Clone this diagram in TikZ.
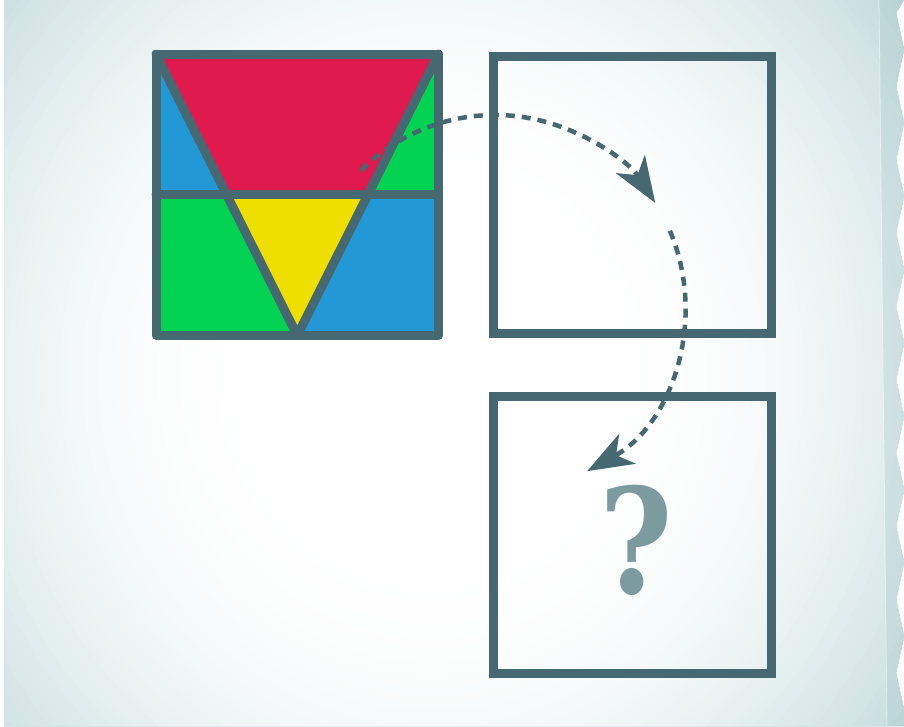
\documentclass[tikz,border=0pt]{standalone}
\usepackage{xcolor}
\usepackage{fontspec}
\usepackage{tikz}
\usetikzlibrary{calc,arrows.meta}
\newfontfamily\qfont{DejaVu Serif}
\definecolor{frameclr}{HTML}{466971}
\definecolor{bgedge}{HTML}{C4DBDC}
\definecolor{bgfold}{HTML}{A3C5C8}
\definecolor{pcred}{HTML}{E0194F}
\definecolor{pcblue}{HTML}{2299D6}
\definecolor{pcgreen}{HTML}{02D352}
\definecolor{pcyellow}{HTML}{EFDF00}
\definecolor{qclr}{HTML}{7C9B9F}
\tikzset{
  outline/.style  = {draw=frameclr, line width=9pt, line join=round, line cap=round},
  frame/.style    = {draw=frameclr, line width=9pt, minimum width=277.5pt, minimum height=277pt, inner sep=0pt, outer sep=0pt},
  dasharc/.style  = {draw=frameclr, line width=4.5pt, dash pattern=on 9pt off 7pt,
                     -{Stealth[length=46pt, width=34pt, inset=13pt]}},
  qmark/.style    = {text=qclr, font=\qfont\fontsize{146}{146}\selectfont\bfseries, inner sep=0pt, xscale=0.86},
}
\begin{document}
\begin{tikzpicture}[x=1pt,y=-1pt]
  \useasboundingbox (0,0) rectangle (904,726);

  % paper with torn right edge
  \begin{scope}
    \clip (4,0) -- (904,0)
      \foreach \k in {0,...,9} { -- (896,{13+73.33*\k}) -- (904,{49.67+73.33*\k}) }
      -- (904,726) -- (4,726) -- cycle;
    \fill[bgedge] (0,0) rectangle (904,726);
    \coordinate (glow) at (432,375);
    \foreach \i in {0,...,59} {
      \pgfmathsetmacro\s{1.05-\i*0.75/59}
      \pgfmathsetmacro\w{100*(1-min(1,(\s-0.3)/0.7)^2)}
      \fill[white!\w!bgedge] (glow) ellipse [x radius={590*\s}, y radius={620*\s}];
    }
    \fill[bgfold, opacity=.3] (879,0) -- (910,0) -- (910,726) -- (887,726) -- cycle;
    \draw[white, opacity=.5, line width=0.8pt] (879,0) -- (887,726);
  \end{scope}

  % coloured square
  \coordinate (tl) at (156,54);
  \coordinate (tr) at (438.5,54);
  \coordinate (br) at (438.5,335.5);
  \coordinate (bl) at (156,335.5);
  \coordinate (bv) at ($(bl)!.5!(br)$);
  \coordinate (ml) at ($(tl)!.5!(bl)$);
  \coordinate (mr) at ($(tr)!.5!(br)$);
  \coordinate (pl) at ($(tl)!.5!(bv)$);
  \coordinate (pr) at ($(tr)!.5!(bv)$);

  \fill[pcred]    (tl) -- (tr) -- (pr) -- (pl) -- cycle;
  \fill[pcblue]   (tl) -- (pl) -- (ml) -- cycle;
  \fill[pcgreen]  (tr) -- (mr) -- (pr) -- cycle;
  \fill[pcgreen]  (ml) -- (pl) -- (bv) -- (bl) -- cycle;
  \fill[pcyellow] (pl) -- (pr) -- (bv) -- cycle;
  \fill[pcblue]   (pr) -- (mr) -- (br) -- (bv) -- cycle;

  \draw[outline] (tl) rectangle (br);
  \draw[outline] (ml) -- (mr);
  \draw[outline] (tl) -- (bv) -- (tr);

  % rotation arrows
  \coordinate (orbit) at (495,305);
  \draw[dasharc] ($(orbit)+(225:190)$) arc[start angle=225, end angle=327.5, radius=190];
  \draw[dasharc] ($(orbit)+(337:190)$) arc[start angle=337, end angle=421, radius=190];

  % empty squares
  \node[frame] (boxB) at (632.25,194.5) {};
  \node[frame] (boxC) at (632.25,535) {};
  \node[qmark] (qmark) at (636,540) {?};
\end{tikzpicture}
\end{document}
